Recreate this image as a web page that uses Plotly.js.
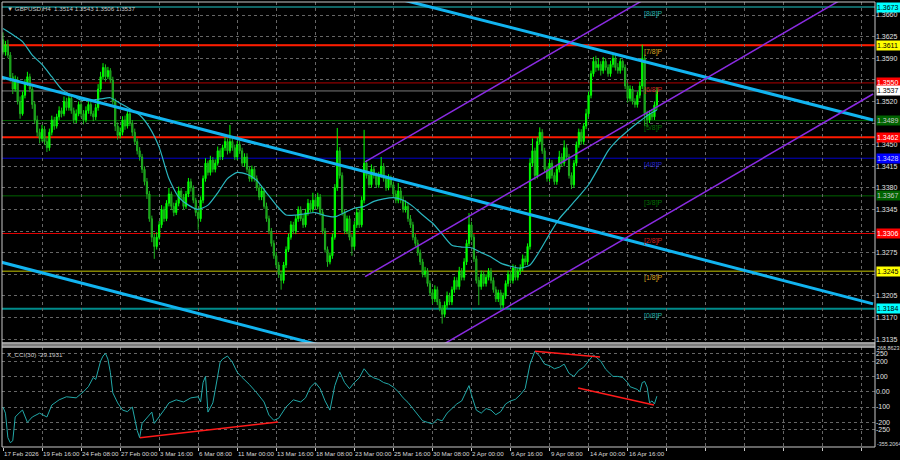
<!DOCTYPE html>
<html><head><meta charset="utf-8">
<script src="https://cdn.plot.ly/plotly-3.0.1.min.js"></script>
<style>html,body{margin:0;padding:0;background:#000;}#chart{width:900px;height:460px;}</style>
</head><body><div id="chart"></div>
<script>
// ---- price data, in pips above 1.3000 (H4 bars, bar index 0 = 17 Feb 2026 00:00)
const PIP_BASE = 1.3;
const openPips = [
620,600,612,595,560,540,555,520,500,530, 550,560,540,515,490,470,460,475,455,445,
470,490,480,495,505,500,520,510,525,505, 490,500,515,500,490,505,515,500,495,510,
540,560,575,560,570,555,520,480,465,470, 490,480,500,485,470,455,440,430,410,390,
370,330,300,285,300,320,345,330,355,370, 350,340,355,375,365,350,370,390,380,360,
340,330,360,395,420,405,425,410,420,440, 430,445,455,440,455,445,430,450,440,420,
430,410,395,410,395,380,365,375,350,330, 310,290,270,255,240,230,255,280,300,320,
310,330,345,330,320,340,355,345,360,350, 365,340,310,280,260,270,300,380,440,400,
340,310,330,300,285,320,340,320,360,420, 400,385,410,400,385,400,415,395,380,395,
385,370,360,375,360,345,350,330,320,300, 290,275,260,240,245,225,210,200,215,195,
185,175,190,205,195,215,230,220,245,235, 260,290,320,300,265,230,220,240,225,235,
245,230,215,200,210,190,205,225,240,230, 250,235,245,250,265,260,285,420,440,400,
455,470,440,410,395,420,400,390,410,430, 420,445,430,400,385,420,450,470,455,480,
500,530,565,585,575,580,570,585,575,565, 580,590,575,570,585,575,545,525,540,520,
515,530,545,590,500,490,500,495,514];
const highPips = [
632,618,620,600,566,562,560,528,536,556, 568,565,546,520,497,476,482,480,462,476,
497,495,500,512,510,528,526,532,530,510, 507,520,520,506,512,522,520,505,516,548,
568,582,580,576,574,560,525,486,478,496, 497,506,505,490,476,460,446,435,415,396,
375,335,306,308,326,352,350,360,380,374, 356,360,382,380,370,375,396,395,384,364,
346,366,400,428,424,432,430,426,447,444, 450,462,460,482,460,450,456,456,445,436,
436,415,416,414,400,385,382,380,356,335, 315,295,276,260,245,260,285,306,326,325,
336,350,350,336,346,362,360,372,365,372, 370,346,315,285,275,306,386,477,446,405,
345,335,335,305,326,348,345,366,474,425, 405,418,415,405,406,430,420,400,402,400,
390,376,388,380,366,360,356,336,325,306, 296,280,265,252,250,230,216,222,220,200,
190,196,212,210,220,236,235,252,250,266, 296,339,325,305,270,236,246,245,240,250,
250,235,220,215,215,210,230,246,245,256, 255,250,256,272,270,290,428,460,445,462,
478,475,445,415,426,425,405,416,440,436, 457,450,435,405,425,455,476,475,485,508,
536,570,592,594,590,585,592,590,580,586, 596,595,582,590,588,580,550,546,545,525,
536,552,612,596,505,506,508,520,543];
const lowPips = [
596,594,590,552,532,536,515,492,497,525, 545,535,508,484,463,452,455,450,438,440,
465,474,476,490,494,496,505,505,500,484, 485,496,494,483,486,500,496,488,490,505,
535,555,552,556,550,515,472,458,460,465, 474,476,480,464,450,434,424,404,384,362,
325,292,265,280,296,315,325,326,350,344, 334,336,350,360,344,346,365,374,355,334,
312,325,355,390,400,400,405,405,416,425, 425,440,434,436,440,425,425,435,415,414,
405,390,390,390,375,360,360,346,325,305, 285,265,250,234,215,225,250,276,296,305,
305,325,326,315,316,335,340,340,346,345, 335,305,275,252,256,265,296,375,395,335,
305,305,295,270,280,315,315,316,355,395, 380,380,395,380,380,396,390,375,376,380,
365,355,355,355,340,340,325,315,295,285, 270,255,235,235,220,205,192,195,190,180,
160,170,185,190,190,210,215,215,230,230, 255,285,295,260,225,190,215,220,220,230,
225,210,195,195,182,185,200,220,225,225, 230,230,240,245,255,255,280,415,393,395,
450,435,405,390,390,395,385,385,405,415, 415,425,395,378,380,415,445,450,450,475,
495,525,560,568,570,562,565,570,560,560, 575,570,565,565,570,540,518,520,515,510,
510,525,540,480,478,485,490,490,506];
const closePips = [
600,612,595,560,540,555,520,500,530,550, 560,540,515,490,470,460,475,455,445,470,
490,480,495,505,500,520,510,525,505,490, 500,515,500,490,505,515,500,495,510,540,
560,575,560,570,555,520,480,465,470,490, 480,500,485,470,455,440,430,410,390,370,
330,300,285,300,320,345,330,355,370,350, 340,355,375,365,350,370,390,380,360,340,
330,360,395,420,405,425,410,420,440,430, 445,455,440,455,445,430,450,440,420,430,
410,395,410,395,380,365,375,350,330,310, 290,270,255,240,230,255,280,300,320,310,
330,345,330,320,340,355,345,360,350,365, 340,310,280,260,270,300,380,440,400,340,
310,330,300,285,320,340,320,360,420,400, 385,410,400,385,400,415,395,380,395,385,
370,360,375,360,345,350,330,320,300,290, 275,260,240,245,225,210,200,215,195,185,
175,190,205,195,215,230,220,245,235,260, 290,320,300,265,230,220,240,225,235,245,
230,215,200,210,190,205,225,240,230,250, 235,245,250,265,260,285,420,440,400,455,
470,440,410,395,420,400,390,410,430,420, 445,430,400,385,420,450,470,455,480,500,
530,565,585,575,580,570,585,575,565,580, 590,575,570,585,575,545,525,540,520,515,
530,545,590,500,490,500,495,514,537];

// moving average, pips
const maBars = [0,4,8,12,16,20,24,28,32,36,40,44,48,52,56,60,64,68,72,76,80,84,88,92,96,100,104,108,112,116,120,124,128,132,136,140,144,148,152,156,160,164,168,172,176,180,184,188,192,196,200,204,208,212,216,220,224,228,232,236,240,244,248,252,256,260,264,268];
const maPips = [638,628,617,595,580,560,540,530,522,522,524,526,517,508,498,478,446,395,365,352,345,352,372,395,405,402,392,372,352,336,336,338,340,335,333,340,347,350,358,362,364,360,350,336,323,305,287,284,283,275,268,258,253,250,255,278,305,330,348,366,385,412,440,458,472,485,497,506];

// CCI(30) readings
const cciBars = [0,1,2,3,4,5,7,8,10,12,15,18,20,23,26,30,33,35,37,38,40,41,42,43,44,45,47,49,51,53,55,56,57,59,61,62,64,66,68,71,74,77,80,81,82,83,84,86,87,89,90,92,94,96,98,101,104,107,109,111,113,116,119,122,124,126,128,130,132,134,136,138,140,142,144,146,148,150,152,154,156,158,160,162,164,166,168,170,172,174,176,178,180,182,184,186,188,190,191,192,194,196,198,200,202,204,206,208,210,212,214,216,218,220,222,224,226,228,230,232,234,236,238,240,242,245,247,250,252,254,256,257,260,261,262,263,264,265,266,267,268];
const cciVals = [-100,-140,-300,-333,-320,-165,-133,-120,-200,-165,-140,-165,-87,-53,-33,-40,0,33,93,80,200,233,250,213,127,-7,-73,-120,-130,-100,-253,-300,-207,-167,-133,-207,-167,-120,-73,-53,-67,-40,-33,-67,60,100,-133,-73,13,193,213,233,193,127,93,47,-7,-67,-153,-187,-173,-100,-53,-67,-40,30,60,20,-60,-120,40,130,60,20,60,90,150,110,90,80,60,50,30,0,-40,-70,-110,-150,-190,-200,-210,-180,-190,-140,-110,-80,-60,0,40,-20,-120,-140,-110,-120,-150,-130,-80,-60,-50,-20,20,180,265,230,180,170,150,160,180,120,100,140,160,200,240,200,147,100,100,93,60,33,15,0,60,67,30,-73,-60,-80,-29.1931];

// axis ticks / labels (labels hidden behind level boxes are left blank)
const priceTicks = [1.3135,1.3170,1.3205,1.3240,1.3275,1.3310,1.3345,1.3380,1.3415,1.3450,1.3485,1.3520,1.3555,1.3590,1.3625,1.3660];
const priceTickText = ["1.3135","1.3170","1.3205","","1.3275","","1.3345","1.3380","1.3415","1.3450","","1.3520","","1.3590","1.3625","1.3660"];
const gridBars = [0,16,32,48,64,80,96,112,128,144,160,176,192,208,224,240,256,272,288,304,320,336,352];
const timeLabels = ["17 Feb 2026","19 Feb 16:00","24 Feb 08:00","27 Feb 00:00","3 Mar 16:00","6 Mar 08:00","11 Mar 00:00","13 Mar 16:00","18 Mar 08:00","23 Mar 00:00","25 Mar 16:00","30 Mar 08:00","2 Apr 00:00","6 Apr 16:00","9 Apr 08:00","14 Apr 00:00","16 Apr 16:00"];
const cciTicks = [250,200,100,0,-100,-200,-250];
const cciTickText = ["250","200","100","0.00","-100","-200","-250"];
const cciMax = 268.8623, cciMin = -355.2064;

// Murrey levels
const mmPrices = [1.3673,1.3611,1.3550,1.3489,1.3428,1.3367,1.3306,1.3245,1.3184];
const mmNames = ["[8/8]P","[7/8]P","[6/8]P","[5/8]P","[4/8]P","[3/8]P","[2/8]P","[1/8]P","[0/8]P"];
const mmLineColors = ["#20c8c8","#ff9900","#b00000","#006400","#0000cd","#006400","#e00000","#c8c800","#008b8b"];
const mmTextColors = ["#20b2aa","#daa520","#cc2020","#007000","#2020cc","#007000","#cc2020","#daa520","#20b2aa"];
const redLevels = [1.3611,1.3462];
const lastPrice = 1.3537;

// right-edge price boxes
const boxPrices = [1.3673,1.3611,1.3550,1.3537,1.3489,1.3462,1.3428,1.3367,1.3306,1.3245,1.3184];
const boxBg = ["#00ffff","#ffff00","#ff0000","#ffffff","#006400","#ff0000","#0000ff","#006400","#ff0000","#ffff00","#00ffff"];
const boxFg = ["#000000","#000000","#ffffff","#000000","#c8c8c8","#ffffff","#d0d0ff","#c8c8c8","#ffffff","#000000","#000000"];

// trend lines (bar, price)
const cyanX0 = [164.3,-1.23,-1.23], cyanY0 = [1.3684,1.3560,1.3260];
const cyanX1 = [356.6,356.6,356.6], cyanY1 = [1.3490,1.3192,1.2892];
const purpX0 = [148.4,148.4,148.4], purpY0 = [1.3422,1.3236,1.30525];
const purpX1 = [356.6,356.6,356.6], purpY1 = [1.3901,1.3715,1.3532];
const divX0 = [56.1,218,235.7], divY0 = [-300,265,24];
const divX1 = [112.7,244.7,266.8], divY1 = [-198,227,-87];

const FONT = "'Liberation Sans',Arial,sans-serif";
const SMALL = 6.2, AXIS = 7, TINY = 5.4;
const toPrice = v => PIP_BASE + v/10000;
const barIdx = closePips.map((_, i) => i);

const traces = [
  {type:'candlestick', x:barIdx, open:openPips.map(toPrice), high:highPips.map(toPrice),
   low:lowPips.map(toPrice), close:closePips.map(toPrice), xaxis:'x', yaxis:'y',
   increasing:{line:{color:'#00ff00',width:1}, fillcolor:'#00ff00'},
   decreasing:{line:{color:'#1fb01f',width:1}, fillcolor:'#168c16'},
   whiskerwidth:0, hoverinfo:'skip'},
  {type:'scatter', mode:'lines', x:maBars, y:maPips.map(toPrice), xaxis:'x', yaxis:'y',
   line:{color:'#2ab7c0',width:1.2,shape:'spline',smoothing:0.6}, hoverinfo:'skip'},
  {type:'scatter', mode:'lines', x:cciBars, y:cciVals, xaxis:'x', yaxis:'y2',
   line:{color:'#22a8a8',width:1}, hoverinfo:'skip'}
];

const shapes = [];
mmPrices.forEach((p,i)=>shapes.push({type:'line',xref:'paper',x0:0,x1:1,yref:'y',y0:p,y1:p,
  line:{color:mmLineColors[i],width:(i===8?2:1)},layer:'below'}));
redLevels.forEach(p=>shapes.push({type:'line',xref:'paper',x0:0,x1:1,yref:'y',y0:p,y1:p,
  line:{color:'#ff1a00',width:2},layer:'below'}));
shapes.push({type:'line',xref:'paper',x0:0,x1:1,yref:'y',y0:lastPrice,y1:lastPrice,
  line:{color:'#7a7a7a',width:1},layer:'below'});
cyanX0.forEach((x,i)=>shapes.push({type:'line',xref:'x',yref:'y',x0:x,y0:cyanY0[i],x1:cyanX1[i],y1:cyanY1[i],
  line:{color:'#12b4f0',width:3}}));
purpX0.forEach((x,i)=>shapes.push({type:'line',xref:'x',yref:'y',x0:x,y0:purpY0[i],x1:purpX1[i],y1:purpY1[i],
  line:{color:'#8a2be2',width:1.5}}));
divX0.forEach((x,i)=>shapes.push({type:'line',xref:'x',yref:'y2',x0:x,y0:divY0[i],x1:divX1[i],y1:divY1[i],
  line:{color:'#ff1a1a',width:1.5}}));
// panel frames and separator
const mainDom = [0.2337,1], cciDom = [0,0.2247];
shapes.push({type:'rect',xref:'paper',yref:'paper',x0:0,x1:1,y0:mainDom[0],y1:mainDom[1],line:{color:'#c8c8c8',width:1}});
shapes.push({type:'rect',xref:'paper',yref:'paper',x0:0,x1:1,y0:cciDom[0],y1:cciDom[1],line:{color:'#c8c8c8',width:1}});
shapes.push({type:'rect',xref:'paper',yref:'paper',x0:0,x1:1,y0:cciDom[1],y1:mainDom[0],fillcolor:'#7c7c7c',line:{color:'#c8c8c8',width:1}});

const ann = [];
ann.push({xref:'paper',yref:'paper',x:0,y:1,xanchor:'left',yanchor:'top',xshift:3,yshift:-1,showarrow:false,
  text:'▼ GBPUSD,H4  1.3514 1.3543 1.3506 1.3537',font:{family:FONT,size:SMALL,color:'#c8c8c8'}});
ann.push({xref:'paper',yref:'paper',x:0,y:cciDom[1],xanchor:'left',yanchor:'top',xshift:3,yshift:-2,showarrow:false,
  text:'X_CCI(30) -29.1931',font:{family:FONT,size:SMALL,color:'#c8c8c8'}});
mmNames.forEach((t,i)=>ann.push({xref:'x',yref:'y',x:262,y:mmPrices[i],xanchor:'left',yanchor:'top',yshift:-1,
  showarrow:false,text:t,font:{family:FONT,size:AXIS,color:mmTextColors[i]}}));
boxPrices.forEach((p,i)=>ann.push({xref:'paper',yref:'y',x:1,y:p,xanchor:'left',yanchor:'middle',xshift:1,
  showarrow:false,text:p.toFixed(4),bgcolor:boxBg[i],borderpad:0,width:24,height:9,align:'left',
  font:{family:FONT,size:AXIS,color:boxFg[i]}}));
timeLabels.forEach((t,i)=>ann.push({xref:'x',yref:'paper',x:gridBars[i],y:0,xanchor:'left',yanchor:'top',
  xshift:-1,yshift:-1,showarrow:false,text:t,font:{family:FONT,size:SMALL,color:'#d8d8d8'}}));
ann.push({xref:'paper',yref:'y2',x:1,y:cciMax,xanchor:'left',yanchor:'middle',xshift:0,yshift:3,showarrow:false,
  text:cciMax.toFixed(4),font:{family:FONT,size:TINY,color:'#d8d8d8'}});
ann.push({xref:'paper',yref:'y2',x:1,y:cciMin,xanchor:'left',yanchor:'middle',xshift:0,yshift:2,showarrow:false,
  text:cciMin.toFixed(4),font:{family:FONT,size:TINY,color:'#d8d8d8'}});

const GRID = '#666666';
const layout = {
  width:900, height:460, paper_bgcolor:'#000000', plot_bgcolor:'#000000',
  margin:{l:2,r:25,t:2,b:13}, showlegend:false, hovermode:false,
  font:{family:FONT,size:AXIS,color:'#d8d8d8'},
  xaxis:{type:'linear', range:[-0.41,357.4], anchor:'y2', rangeslider:{visible:false},
    tickvals:gridBars, showticklabels:false, ticks:'outside', ticklen:3, tickcolor:'#c8c8c8',
    showgrid:true, gridcolor:GRID, griddash:'dot', gridwidth:1, zeroline:false, showline:false},
  yaxis:{domain:mainDom, range:[1.31286,1.36811], side:'right', anchor:'x', tickvals:priceTicks,
    ticktext:priceTickText, ticks:'', showgrid:true, gridcolor:GRID, griddash:'dot', zeroline:false,
    tickfont:{family:FONT,size:AXIS,color:'#e0e0e0'}},
  yaxis2:{domain:cciDom, range:[-361,292], side:'right', anchor:'x', tickvals:cciTicks, ticktext:cciTickText,
    ticks:'', showgrid:true, gridcolor:GRID, griddash:'dot', zeroline:false,
    tickfont:{family:FONT,size:AXIS,color:'#e0e0e0'}},
  shapes:shapes, annotations:ann
};
Plotly.newPlot('chart', traces, layout, {staticPlot:true, displayModeBar:false});
</script></body></html>
